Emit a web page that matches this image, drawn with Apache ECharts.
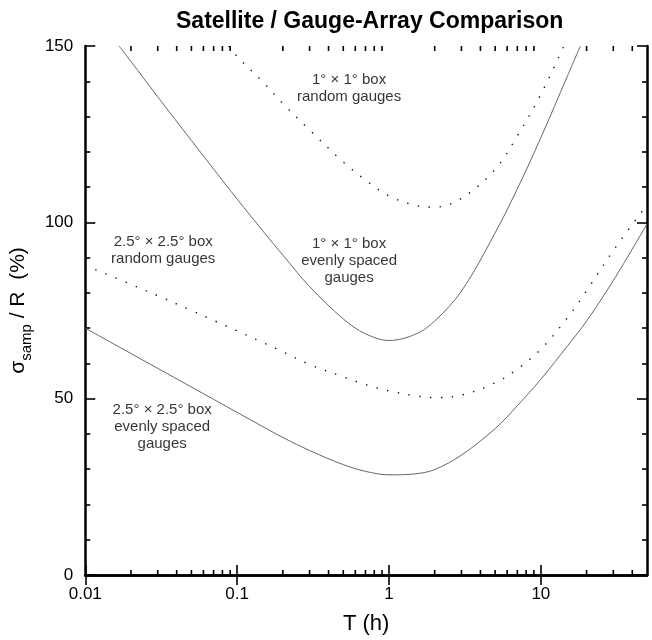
<!DOCTYPE html>
<html>
<head>
<meta charset="utf-8">
<script src="https://cdn.jsdelivr.net/npm/echarts@6/dist/echarts.min.js"></script>
<style>html,body{margin:0;padding:0;background:#fff}#c{width:652px;height:640px}</style>
</head>
<body>
<div id="c"></div>
<script>
// ---- data ----
const T_grid = [0.01, 0.02, 0.03, 0.05, 0.07, 0.1, 0.15, 0.2, 0.3, 0.5, 0.7, 1, 1.5, 2, 3, 5, 7, 10, 15, 20, 30, 50];

// 1° x 1° box, evenly spaced gauges (solid)
const even1_T = [0.0167, 0.02, 0.03, 0.05, 0.07, 0.1, 0.15, 0.2, 0.3, 0.5, 0.7, 1, 1.5, 2, 3, 5, 7, 10, 15, 18.2];
const even1_V = [150, 145.6, 135.6, 123.2, 115.1, 106.6, 97.2, 90.7, 81.8, 72.6, 68.4, 66.5, 68.3, 72, 80.5, 97, 109.5, 124, 141.6, 150];

// 1° x 1° box, random gauges (dotted)
const rand1_T = [0.088, 0.1, 0.15, 0.2, 0.3, 0.5, 0.7, 1, 1.5, 2, 3, 5, 7, 10, 14.2];
const rand1_V = [150, 147, 139.5, 133.7, 126.2, 117.1, 112, 107.5, 104.8, 104.3, 106.8, 115, 124.5, 136.3, 150];

// 2.5° x 2.5° box, random gauges (dotted)
const rand25_V = [87.8, 82.4, 79.2, 75, 72.2, 69.2, 65.8, 63.3, 59.7, 56.2, 54, 52.2, 50.8, 50.3, 51, 54.5, 58.4, 64, 73, 80.6, 92, 105];

// 2.5° x 2.5° box, evenly spaced gauges (solid)
const even25_V = [70, 62.8, 58.6, 53.3, 49.8, 46.1, 41.9, 39, 35.3, 31.3, 29.4, 28.4, 28.7, 29.9, 34, 41.5, 48, 55.5, 65, 72, 83.5, 99.5];

// x-axis labelled (major) ticks and minor tick positions
const majorTicks = [0.01, 0.1, 1, 10];
const minorTicks = [0.02,0.03,0.04,0.05,0.06,0.07,0.08,0.09,
                    0.2,0.3,0.4,0.5,0.6,0.7,0.8,0.9,
                    2,3,4,5,6,7,8,9,
                    20,30,40];

// curve annotations: [T, value, text]
const annotations = [
  [0.546, 138, '1° × 1° box\nrandom gauges'],
  [0.546, 89, '1° × 1° box\nevenly spaced\ngauges'],
  [0.0326, 92, '2.5° × 2.5° box\nrandom gauges'],
  [0.0321, 42, '2.5° × 2.5° box\nevenly spaced\ngauges']
];

const FONT = '"Liberation Sans", Arial, Helvetica, sans-serif';
const zip = (xs, ys) => xs.map((x, i) => [x, ys[i]]);

const chart = echarts.init(document.getElementById('c'), null, {renderer: 'canvas'});

const axisLine = {show: true, lineStyle: {color: '#000', width: 2.5}};
const xBase = {
  type: 'log', logBase: 10, min: 0.01, max: 50,
  axisLine: axisLine,
  axisTick: {show: true, inside: true, length: 10, customValues: majorTicks,
             lineStyle: {color: '#000', width: 1.6}},
  splitLine: {show: false},
  minorTick: {show: false}
};
const yBase = {
  type: 'value', min: 0, max: 150, interval: 50,
  axisLine: axisLine,
  axisTick: {show: true, inside: true, length: 10, lineStyle: {color: '#000', width: 1.6}},
  minorTick: {show: true, splitNumber: 5, length: 5, lineStyle: {color: '#000', width: 1.6}},
  splitLine: {show: false},
  minorSplitLine: {show: false}
};

const option = {
  animation: false,
  backgroundColor: '#fff',
  title: {
    text: 'Satellite / Gauge-Array Comparison',
    left: 171, top: 5,
    textStyle: {fontFamily: FONT, fontSize: 23, fontWeight: 'bold', color: '#000'}
  },
  grid: {left: 84, right: 5, top: 46, bottom: 63, containLabel: false},
  xAxis: [
    Object.assign({}, xBase, {
      position: 'bottom',
      name: 'T (h)', nameLocation: 'middle', nameGap: 38,
      nameTextStyle: {fontFamily: FONT, fontSize: 22, color: '#000'},
      axisLabel: {show: true, margin: 11, fontFamily: FONT, fontSize: 17, color: '#000',
                  customValues: majorTicks,
                  formatter: v => String(v)}
    }),
    Object.assign({}, xBase, {position: 'top', axisLabel: {show: false}})
  ],
  yAxis: [
    Object.assign({}, yBase, {
      position: 'left',
      name: '{m|σ}{s|samp}{m| / R  (%)}',
      nameLocation: 'middle', nameGap: 38, nameRotate: 90,
      nameTextStyle: {
        fontFamily: FONT, color: '#000',
        rich: {
          m: {fontFamily: FONT, fontSize: 21, lineHeight: 24, verticalAlign: 'top', color: '#000'},
          s: {fontFamily: FONT, fontSize: 15, lineHeight: 16, verticalAlign: 'top', padding: [11, 0, 0, 0], color: '#000'}
        }
      },
      axisLabel: {show: true, margin: 12, fontFamily: FONT, fontSize: 17, color: '#000'}
    }),
    Object.assign({}, yBase, {position: 'right', axisLabel: {show: false}})
  ],
  series: [
    {
      type: 'line', name: 'even1', data: zip(even1_T, even1_V), smooth: 0.35,
      showSymbol: false, symbol: 'none',
      lineStyle: {color: '#666', width: 1}
    },
    {
      type: 'line', name: 'rand1', data: zip(rand1_T, rand1_V), smooth: 0.35,
      showSymbol: false, symbol: 'none',
      lineStyle: {color: '#111', width: 1.4, type: [1.4, 9.5]}
    },
    {
      type: 'line', name: 'rand25', data: zip(T_grid, rand25_V), smooth: 0.35,
      showSymbol: false, symbol: 'none',
      lineStyle: {color: '#111', width: 1.4, type: [1.4, 9.5]}
    },
    {
      type: 'line', name: 'even25', data: zip(T_grid, even25_V), smooth: 0.35,
      showSymbol: false, symbol: 'none',
      lineStyle: {color: '#666', width: 1}
    },
    {
      type: 'custom', name: 'minorTicks',
      data: minorTicks.map(v => [v, 0]),
      encode: {x: 0, y: 1},
      clip: false, silent: true,
      renderItem: function (params, api) {
        const v = api.value(0);
        const b = api.coord([v, 0]);
        const t = api.coord([v, 150]);
        const st = {stroke: '#000', lineWidth: 1.6};
        return {
          type: 'group',
          children: [
            {type: 'line', shape: {x1: b[0], y1: b[1], x2: b[0], y2: b[1] - 5}, style: st},
            {type: 'line', shape: {x1: t[0], y1: t[1], x2: t[0], y2: t[1] + 5}, style: st}
          ]
        };
      }
    },
    {
      type: 'scatter', name: 'labels',
      data: annotations.map(a => ({value: [a[0], a[1]], text: a[2]})),
      symbolSize: 0, silent: true,
      label: {
        show: true, position: 'inside',
        formatter: p => p.data.text,
        fontFamily: FONT, fontSize: 15, lineHeight: 17, color: '#000', align: 'center'
      }
    }
  ]
};
chart.setOption(option);
</script>
</body>
</html>
